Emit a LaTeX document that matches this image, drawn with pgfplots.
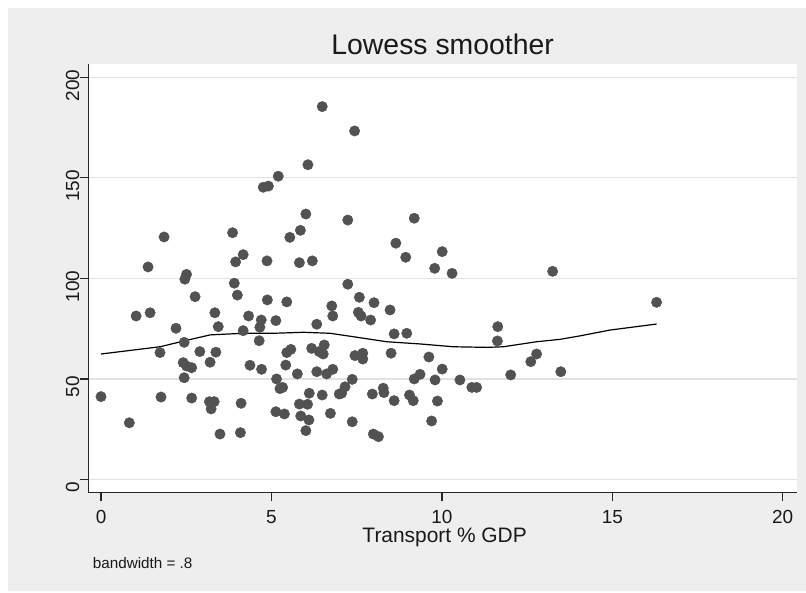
\documentclass[border=0pt]{standalone}
\usepackage{fontspec}
\setmainfont{Liberation Sans}
\usepackage{pgfplots}
\pgfplotsset{compat=1.18}
\definecolor{bg}{RGB}{238,238,238}
\definecolor{gridc}{RGB}{226,226,226}
\definecolor{mk}{RGB}{82,82,82}
\pgfplotstableread{
x y
6.49 185.4
6.07 156.5
5.20 150.8
4.76 145.3
4.91 145.9
6.01 132.0
1.85 120.6
3.86 122.7
5.54 120.4
5.85 123.9
1.38 105.7
2.51 102.0
2.46 99.6
4.17 111.8
3.95 108.2
4.87 108.7
5.82 107.8
6.20 108.7
3.91 97.6
7.44 173.3
7.24 129.0
9.19 129.9
8.65 117.5
8.94 110.5
10.01 113.3
9.79 105.0
10.30 102.5
13.25 103.5
7.24 97.1
4.00 91.7
2.76 90.9
4.88 89.3
5.45 88.3
6.77 86.3
6.80 81.3
1.03 81.3
1.44 82.9
3.34 82.9
3.44 76.0
2.20 75.2
4.33 81.3
4.70 79.3
5.13 79.0
4.66 75.7
4.17 74.0
4.64 69.0
6.33 77.2
2.44 68.2
1.73 63.1
2.90 63.6
3.37 63.3
5.45 63.1
5.57 64.7
2.41 58.1
2.51 56.4
2.66 55.6
3.20 58.3
4.37 56.8
4.71 54.8
5.42 56.9
5.76 52.5
6.18 65.2
6.40 63.6
6.55 66.9
6.52 62.4
6.33 53.6
6.62 52.5
6.80 54.8
2.44 50.6
5.15 50.0
5.25 45.2
5.33 45.8
6.11 42.9
6.49 42.0
6.99 42.5
0.00 41.2
1.76 41.0
2.66 40.5
3.18 38.7
3.32 38.7
3.23 35.1
4.11 37.9
5.82 37.5
6.06 37.4
5.13 33.7
5.38 32.6
5.86 31.6
6.10 29.6
6.73 32.9
6.01 24.3
0.83 28.2
3.49 22.6
4.09 23.3
7.58 90.6
8.01 87.9
8.48 84.3
7.55 83.1
7.63 81.3
7.91 79.3
8.60 72.4
8.97 72.7
11.64 76.0
11.63 68.9
7.45 61.6
7.68 62.8
7.68 59.9
8.51 62.8
9.62 60.9
10.01 54.9
7.37 49.8
7.16 46.1
7.06 42.9
7.96 42.5
8.28 45.4
8.30 43.2
8.60 39.2
9.05 42.0
9.16 39.2
9.36 52.3
9.19 50.0
9.80 49.5
9.87 39.0
9.70 29.1
10.53 49.5
10.88 45.8
11.02 45.8
12.02 52.0
12.61 58.6
12.78 62.4
13.49 53.6
7.37 28.7
7.99 22.6
8.14 21.3
16.30 88.1
}\scatterdata
\pgfplotstableread{
x y
0.00 62.4
1.73 66.0
2.44 68.9
3.20 71.9
4.17 72.7
5.06 72.7
5.94 73.2
6.72 72.7
7.40 71.0
8.38 68.5
9.36 67.4
10.34 66.0
11.32 65.7
11.80 66.0
12.78 68.5
13.47 69.7
14.05 71.4
14.93 74.3
16.30 77.3
}\lowessdata
\begin{document}
\begin{tikzpicture}[x=1bp,y=1bp]
\fill[white] (0,0) rectangle (806,593);
\useasboundingbox (0,0) rectangle (806,593);
\fill[bg] (8,1.5) rectangle (806,585);
\begin{axis}[
  at={(88.3bp,100.5bp)}, anchor=south west, scale only axis,
  width=708.7bp, height=428.5bp,
  xmin=-0.373, xmax=20.42, ymin=-6.46, ymax=206.6,
  axis background/.style={fill=white},
  axis x line*=bottom, axis y line*=left,
  axis line style={black!85, line width=1.4bp},
  xtick={0,5,10,15,20}, ytick={0,50,100,150,200},
  tick align=outside, major tick length=8.7bp,
  tick style={black!85, line width=1.3bp},
  ymajorgrids, grid style={gridc, line width=1.3bp},
  /pgf/number format/assume math mode=true,
  ticklabel style={font=\fontsize{19}{19}\selectfont, text=black!90},
  yticklabel style={rotate=90, anchor=south, inner sep=0pt, xshift=-8bp},
  xticklabel style={anchor=north, inner sep=0pt, yshift=-9bp},
  title={Lowess smoother},
  title style={font=\fontsize{28.5}{28.5}\selectfont, at={(axis description cs:0.5,1)}, anchor=base, yshift=4bp, inner sep=0pt, text=black!90},
  xlabel={Transport \% GDP},
  xlabel style={font=\fontsize{21}{21}\selectfont, at={(axis description cs:0.5,0)}, anchor=base, yshift=-50.5bp, xshift=2bp, inner sep=0pt, text=black!90},
  clip=false,
]
\addplot[only marks, mark=*, mark size=5.2bp, mark options={fill=mk, draw=mk}] table[x=x,y=y] {\scatterdata};
\addplot[black, line width=1.2bp, no marks] table[x=x,y=y] {\lowessdata};
\end{axis}
\node[anchor=base west, inner sep=0pt, font=\fontsize{15.3}{15.3}\selectfont, text=black!90] at (92.7,24) {bandwidth = .8};
\end{tikzpicture}
\end{document}
